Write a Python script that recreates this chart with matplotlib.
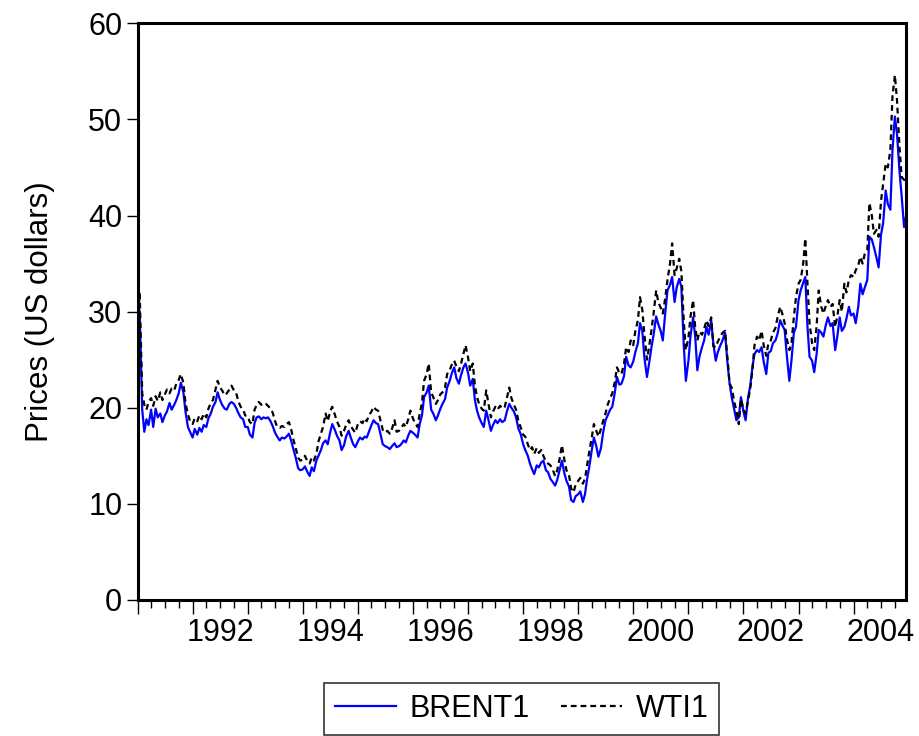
import numpy as np
import pandas as pd
import matplotlib
matplotlib.use("Agg")
import matplotlib.pyplot as plt
import matplotlib.dates as mdates
from matplotlib.ticker import FuncFormatter, NullFormatter, MultipleLocator

plt.rcParams['font.family'] = ['Liberation Sans', 'DejaVu Sans']

# semi-monthly readings (1st and 15th of each month), Jan 1991 - Dec 2004
dates = pd.date_range('1991-01-01', periods=336, freq='SMS')

wti1 = [
    # 1991
    28.0, 32.0, 21.5, 20.3, 19.8, 20.6, 21.0, 20.2, 21.2, 20.7, 21.6, 20.8,
    21.4, 21.9, 21.5, 22.0, 21.8, 22.5, 22.9, 23.5, 22.6, 20.5, 19.3, 18.6,
    # 1992
    18.3, 18.9, 18.6, 19.2, 18.8, 19.4, 19.0, 19.9, 20.5, 20.8, 21.9, 22.8,
    22.1, 21.8, 21.3, 21.5, 21.9, 22.3, 21.8, 21.6, 20.6, 20.1, 19.8, 19.2,
    # 1993
    19.1, 18.5, 18.3, 19.8, 20.3, 20.6, 20.3, 20.5, 20.4, 20.2, 19.9, 19.5,
    18.6, 18.0, 17.9, 18.1, 18.0, 18.3, 18.5, 17.8, 16.6, 15.8, 14.8, 14.5,
    # 1994
    14.6, 15.0, 14.4, 14.2, 14.8, 14.5, 15.2, 16.5, 17.3, 18.0, 19.4, 18.6,
    19.6, 20.1, 19.3, 18.6, 18.0, 17.1, 17.6, 18.2, 18.7, 18.1, 17.7, 17.4,
    # 1995
    18.3, 18.6, 18.4, 18.9, 18.6, 19.2, 19.6, 20.1, 19.8, 19.7, 18.6, 17.7,
    17.4, 17.6, 17.3, 17.8, 18.7, 17.5, 17.6, 17.9, 18.3, 18.0, 18.8, 19.7,
    # 1996
    18.9, 18.4, 18.0, 19.4, 20.5, 22.8, 23.5, 24.6, 21.6, 21.1, 20.4, 20.8,
    21.4, 21.6, 22.1, 23.5, 23.9, 24.5, 24.9, 24.3, 23.8, 24.6, 25.6, 26.5,
    # 1997
    25.2, 23.8, 24.6, 22.3, 21.1, 20.4, 19.9, 19.7, 21.8, 20.5, 19.0, 19.6,
    20.1, 19.8, 20.2, 19.9, 20.1, 21.0, 22.1, 21.0, 20.3, 19.8, 18.6, 18.0,
    # 1998
    17.2, 17.0, 16.2, 15.6, 15.9, 15.2, 15.8, 15.3, 15.6, 15.0, 14.4, 14.2,
    14.0, 13.6, 12.9, 13.5, 14.8, 16.1, 14.6, 13.5, 13.0, 11.6, 11.2, 12.0,
    # 1999
    12.4, 12.7, 12.1, 12.6, 14.0, 15.4, 16.9, 18.3, 17.6, 17.0, 17.8, 18.6,
    19.4, 20.3, 21.0, 21.5, 22.7, 24.2, 23.6, 23.5, 24.6, 26.3, 25.8, 27.0,
    # 2000
    26.5, 28.0, 29.1, 31.5, 30.2, 27.6, 25.0, 26.3, 28.1, 29.8, 32.2, 31.0,
    30.4, 29.8, 31.5, 33.3, 35.0, 37.1, 33.8, 34.5, 35.5, 34.2, 29.0, 26.0,
    # 2001
    27.3, 29.5, 31.2, 28.3, 27.0, 27.9, 27.6, 28.2, 29.1, 28.5, 29.4, 26.4,
    26.3, 26.9, 27.4, 27.8, 28.0, 25.5, 22.5, 22.1, 20.6, 19.7, 18.3, 20.9,
    # 2002
    19.8, 19.4, 20.8, 22.0, 23.9, 26.5, 27.4, 27.0, 28.0, 26.5, 25.4, 26.7,
    27.0, 27.8, 28.3, 29.4, 30.5, 29.8, 28.8, 27.2, 26.0, 26.7, 29.4, 31.5,
    # 2003
    32.9, 33.3, 35.0, 37.6, 33.0, 28.8, 26.7, 26.0, 28.5, 32.2, 30.5, 29.8,
    30.6, 31.2, 30.5, 30.8, 28.4, 29.5, 31.2, 30.0, 32.9, 32.0, 33.3, 33.8,
    # 2004
    33.6, 34.3, 34.8, 35.7, 35.0, 36.0, 36.4, 41.3, 40.0, 38.1, 38.5, 37.8,
    41.5, 43.3, 45.4, 45.0, 46.8, 52.4, 54.6, 52.0, 47.0, 44.0, 43.7, 44.0,
]

brent1 = [
    # 1991
    26.5, 30.1, 19.8, 17.5, 18.8, 18.2, 19.8, 18.0, 19.9, 19.0, 19.4, 18.5,
    19.2, 19.6, 20.5, 19.8, 20.3, 20.8, 21.5, 22.6, 21.6, 19.6, 18.0, 17.5,
    # 1992
    16.9, 17.8, 17.2, 17.9, 17.5, 18.2, 18.0, 18.9, 19.4, 20.1, 20.6, 21.6,
    20.8, 20.3, 19.9, 19.8, 20.4, 20.6, 20.4, 20.0, 19.4, 19.0, 18.8, 18.0,
    # 1993
    18.0, 17.2, 16.9, 18.4, 19.0, 19.1, 18.8, 19.0, 18.9, 19.0, 18.6, 18.1,
    17.4, 17.0, 16.6, 16.9, 16.8, 17.0, 17.3, 16.6, 15.6, 14.8, 13.7, 13.5,
    # 1994
    13.6, 13.9, 13.3, 12.9, 13.8, 13.4, 14.5, 15.0, 15.6, 16.3, 16.6, 16.2,
    17.4, 18.3, 17.7, 17.1, 16.6, 15.6, 16.1, 17.0, 17.6, 16.9, 16.2, 15.9,
    # 1995
    16.5, 16.9, 16.7, 17.0, 16.9, 17.5, 18.2, 18.7, 18.4, 18.3, 17.2, 16.2,
    16.0, 15.9, 15.7, 16.0, 16.3, 15.9, 16.0, 16.2, 16.6, 16.4, 17.1, 17.6,
    # 1996
    17.4, 17.2, 16.9, 18.3, 19.2, 21.1, 21.6, 22.3, 19.8, 19.4, 18.7, 19.2,
    19.9, 20.4, 20.9, 22.1, 22.8, 23.6, 24.2, 23.1, 22.5, 23.4, 24.2, 24.6,
    # 1997
    23.6, 22.3, 23.0, 20.8, 19.7, 19.0, 18.4, 18.0, 19.7, 18.8, 17.6, 18.2,
    18.7, 18.4, 18.8, 18.5, 18.7, 19.6, 20.4, 20.0, 19.6, 19.0, 17.8, 17.3,
    # 1998
    16.2, 15.6, 15.0, 14.2, 13.6, 13.1, 14.0, 13.8, 14.3, 14.5, 13.5, 13.3,
    12.6, 12.3, 11.9, 12.5, 13.6, 14.5, 13.2, 12.4, 11.8, 10.4, 10.2, 10.8,
    # 1999
    11.0, 11.3, 10.2, 11.0, 12.6, 13.8, 15.6, 16.9, 16.0, 14.9, 15.8, 17.4,
    18.7, 19.2, 19.8, 20.1, 21.6, 23.2, 22.4, 22.5, 23.3, 25.3, 24.4, 24.2,
    # 2000
    24.8, 25.8, 26.7, 28.8, 28.0, 25.2, 23.2, 24.6, 26.3, 27.6, 29.5, 28.7,
    28.0, 27.0, 30.0, 32.2, 32.8, 33.6, 31.0, 32.5, 33.4, 32.6, 26.5, 22.8,
    # 2001
    24.9, 27.5, 29.4, 27.4, 23.9, 25.3, 26.3, 27.0, 28.4, 27.6, 29.1, 26.7,
    24.9, 25.8, 26.5, 27.0, 27.8, 25.0, 22.5, 21.1, 19.8, 18.7, 19.0, 21.1,
    # 2002
    19.6, 18.7, 21.1, 22.3, 24.2, 25.6, 26.0, 25.8, 26.3, 24.8, 23.5, 25.7,
    25.9, 26.7, 27.0, 27.7, 29.1, 28.6, 28.1, 25.5, 22.8, 24.9, 27.8, 28.4,
    # 2003
    31.2, 32.2, 33.0, 33.6, 28.5, 25.3, 24.9, 23.7, 25.6, 28.1, 27.8, 27.4,
    28.6, 29.4, 28.5, 28.8, 26.0, 27.4, 29.4, 28.0, 28.4, 29.3, 30.5, 29.6,
    # 2004
    29.8, 28.8, 30.5, 32.9, 31.8, 32.5, 33.3, 37.8, 37.5, 36.7, 35.6, 34.6,
    38.0, 39.2, 42.6, 41.2, 40.6, 46.8, 50.3, 48.5, 44.5, 42.0, 38.8, 40.0,
]

fig = plt.figure(figsize=(9.2, 7.36), dpi=100)
ax = fig.add_axes([0.1495, 0.1848, 0.8355, 0.7836])

ax.plot(dates, brent1, color='#0000ff', lw=1.6, label='BRENT1')
ax.plot(dates, wti1, color='black', lw=1.6, dashes=(2.6, 1.8), label='WTI1')

ax.set_xlim(dates[0], dates[-1])
ax.set_ylim(0, 60)
ax.yaxis.set_major_locator(MultipleLocator(10))

# years: long tick at each Jan 1, quarter ticks, label every other mid-year
ax.xaxis.set_major_locator(mdates.YearLocator())
ax.xaxis.set_major_formatter(NullFormatter())
ax.xaxis.set_minor_locator(mdates.MonthLocator(bymonth=[1, 4, 7, 10]))


def year_label(x, pos):
    d = mdates.num2date(x)
    if d.month == 7 and d.year % 2 == 0:
        return str(d.year)
    return ''


ax.xaxis.set_minor_formatter(FuncFormatter(year_label))

ax.tick_params(axis='x', which='major', direction='out', length=10, width=1)
ax.tick_params(axis='x', which='minor', direction='out', length=6, width=1,
               labelsize=22, pad=7)
ax.tick_params(axis='y', direction='out', length=8, width=1, labelsize=22, pad=3)

for s in ax.spines.values():
    s.set_linewidth(2.2)

ax.set_ylabel('Prices (US dollars)', fontsize=22.5, labelpad=24)

leg = fig.legend(loc='center', bbox_to_anchor=(0.567, 0.0365), ncol=2,
                 fontsize=22, fancybox=False, edgecolor='black',
                 handlelength=2.0, columnspacing=1.0, borderpad=0.35,
                 handletextpad=0.45)
leg.get_frame().set_linewidth(1.2)

fig.savefig('out.png', dpi=100)
